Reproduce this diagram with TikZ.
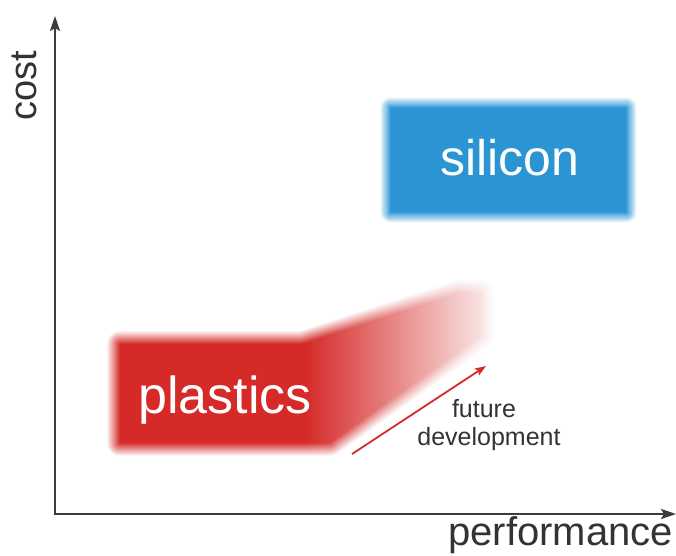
\documentclass[tikz,border=0pt]{standalone}
\usepackage{fontspec}
\setmainfont{Liberation Sans}
\usetikzlibrary{arrows.meta,fadings}
\definecolor{plred}{HTML}{D52A28}
\definecolor{siblue}{HTML}{2B95D3}
\definecolor{axisgray}{HTML}{3C3C3C}
\definecolor{txtgray}{HTML}{333333}
\tikzfading[name=fadetoright, left color=transparent!100, right color=transparent!0]
\tikzset{
  axisline/.style={draw=axisgray, line width=2.4pt, -{Stealth[length=15pt,width=10pt,inset=3pt]}},
  axislabel/.style={text=txtgray, inner sep=0pt},
  boxlabel/.style={text=white, inner sep=0pt},
  devlabel/.style={text=txtgray, inner sep=0pt, anchor=base, font=\fontsize{25}{28}\selectfont},
  devarrow/.style={draw=plred, line width=1.8pt, -{Stealth[length=11pt,width=8pt,inset=2pt]}},
}
% blurred polygon: colour, radius, path
\newcommand\blurshape[3]{%
  \foreach \k in {0,...,19}{%
    \pgfmathsetmacro\w{2*#2*(20-\k)/20}%
    \pgfmathtruncatemacro\p{100*(\k+1)/21}%
    \filldraw[draw=#1!\p!white, fill=#1!\p!white, line width=\w pt, line join=round] #3;
  }%
  \fill[#1] #3;
}
\begin{document}
\begin{tikzpicture}[x=1pt,y=-1pt]
\useasboundingbox[fill=white] (0,0) rectangle (676,555);
% silicon block
\blurshape{siblue}{11}{(391,108) -- (626,108) -- (626,212) -- (391,212) -- cycle}
\node[boxlabel, font=\fontsize{50}{54}\selectfont, anchor=base] (si) at (510,175) {silicon};
% plastics block
\blurshape{plred}{13}{(120,344) -- (302,344) -- (460,293) -- (482,293) -- (482,335) -- (330,443) -- (120,443) -- cycle}
\fill[white, path fading=fadetoright] (305,262) rectangle (508,475);
\node[boxlabel, font=\fontsize{52}{56}\selectfont, anchor=base] (pl) at (225,413) {plastics};
% development arrow
\coordinate (d1) at (352,454);
\coordinate (d2) at (486,366);
\draw[devarrow] (d1) -- (d2);
\node[devlabel] (fd1) at (484,417) {future};
\node[devlabel] (fd2) at (489,445) {development};
% axes
\coordinate (o) at (55,514);
\coordinate (ytop) at (55,16);
\coordinate (xend) at (676,514);
\draw[axisline] (o) -- (ytop);
\draw[axisline] (o) -- (xend);
\draw[draw=axisgray, line width=2.4pt] (55,515.2) -- (55,512.8);
\node[axislabel, font=\fontsize{38}{42}\selectfont, rotate=90, anchor=base west] (cost) at (36,121) {cost};
\node[axislabel, font=\fontsize{40}{44}\selectfont, anchor=base east] (perf) at (673,545) {performance};
\end{tikzpicture}
\end{document}
